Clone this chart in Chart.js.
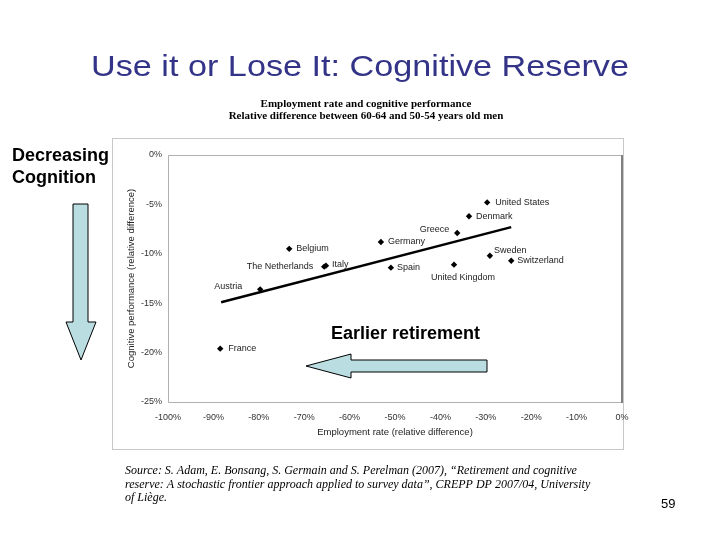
<!DOCTYPE html>
<html>
<head>
<meta charset="utf-8">
<script src="https://cdn.jsdelivr.net/npm/chart.js@4.4.1/dist/chart.umd.min.js"></script>
<style>
  html, body { margin: 0; padding: 0; background: #fff; }
  #wrap { position: relative; width: 720px; height: 540px; }
</style>
</head>
<body>
<div id="wrap"><canvas id="retireChart" width="720" height="540"></canvas></div>
<script>
// countries and their values
const countries = ['United States', 'Denmark', 'Greece', 'Germany', 'Belgium', 'The Netherlands',
                   'Italy', 'Spain', 'United Kingdom', 'Sweden', 'Switzerland', 'Austria', 'France'];
const employment = [-29.7, -33.7, -36.3, -53.1, -73.3, -65.6, -65.2, -50.9, -37.0, -29.1, -24.4, -79.7, -88.5];
const cognition = [-4.8, -6.2, -7.9, -8.8, -9.5, -11.3, -11.2, -11.4, -11.1, -10.2, -10.7, -13.6, -19.6];

// fitted line end points
const trendX = [-88.3, -24.4];
const trendY = [-14.9, -7.3];

const xTicks = [-100, -90, -80, -70, -60, -50, -40, -30, -20, -10, 0];
const yTicks = [0, -5, -10, -15, -20, -25];

// where each country name sits next to its marker
const labelPlace = {
    'United States': { dx: 8, dy: 0, align: 'left' },
    'Denmark': { dx: 7, dy: 0, align: 'left' },
    'Greece': { dx: -8, dy: -4, align: 'right' },
    'Germany': { dx: 7, dy: 0, align: 'left' },
    'Belgium': { dx: 7, dy: 0, align: 'left' },
    'The Netherlands': { dx: -11, dy: 0, align: 'right' },
    'Italy': { dx: 6, dy: -1, align: 'left' },
    'Spain': { dx: 6, dy: 0, align: 'left' },
    'United Kingdom': { dx: 9, dy: 13, align: 'center' },
    'Sweden': { dx: 4, dy: -5, align: 'left' },
    'Switzerland': { dx: 6, dy: 0, align: 'left' },
    'Austria': { dx: -18, dy: -3, align: 'right' },
    'France': { dx: 8, dy: 0, align: 'left' }
};

const points = countries.map((c, i) => ({ x: employment[i], y: cognition[i] }));
const trend = trendX.map((x, i) => ({ x: x, y: trendY[i] }));

function arrowPath(ctx, pts) {
    ctx.save();
    ctx.beginPath();
    ctx.moveTo(pts[0][0], pts[0][1]);
    for (let i = 1; i < pts.length; i++) ctx.lineTo(pts[i][0], pts[i][1]);
    ctx.closePath();
    ctx.fillStyle = '#b9dde0';
    ctx.fill();
    ctx.lineWidth = 1;
    ctx.strokeStyle = '#000';
    ctx.stroke();
    ctx.restore();
}

// slide decorations, frames and point labels
const slidePlugin = {
    id: 'slide',
    beforeDraw(chart) {
        const ctx = chart.ctx;
        const a = chart.chartArea;
        ctx.save();
        ctx.fillStyle = '#fff';
        ctx.fillRect(0, 0, chart.width, chart.height);
        // outer chart frame
        ctx.strokeStyle = '#c8c8c8';
        ctx.lineWidth = 1;
        ctx.strokeRect(112.5, 138.5, 511, 311);
        // plot area frame
        ctx.strokeStyle = '#b0b0b0';
        ctx.beginPath();
        ctx.moveTo(a.right, a.top + 0.5);
        ctx.lineTo(a.left + 0.5, a.top + 0.5);
        ctx.lineTo(a.left + 0.5, a.bottom + 0.5);
        ctx.lineTo(a.right, a.bottom + 0.5);
        ctx.stroke();
        ctx.strokeStyle = '#808080';
        ctx.lineWidth = 2;
        ctx.beginPath();
        ctx.moveTo(a.right, a.top);
        ctx.lineTo(a.right, a.bottom + 1);
        ctx.stroke();
        ctx.restore();
    },
    afterDatasetsDraw(chart) {
        const ctx = chart.ctx;
        const xs = chart.scales.x, ys = chart.scales.y;
        ctx.save();
        ctx.font = '9px "Liberation Sans", Arial, sans-serif';
        ctx.fillStyle = '#222';
        ctx.textBaseline = 'middle';
        countries.forEach((c, i) => {
            const p = labelPlace[c];
            ctx.textAlign = p.align;
            ctx.fillText(c, xs.getPixelForValue(employment[i]) + p.dx, ys.getPixelForValue(cognition[i]) + p.dy);
        });
        ctx.restore();
    },
    afterDraw(chart) {
        const ctx = chart.ctx;
        ctx.save();
        ctx.textBaseline = 'middle';

        // slide title (the original is a bit stretched sideways)
        ctx.save();
        ctx.fillStyle = '#333388';
        ctx.font = '30px "Liberation Sans", Arial, sans-serif';
        ctx.textAlign = 'center';
        ctx.translate(360, 68);
        ctx.scale(1.14, 1);
        ctx.fillText('Use it or Lose It: Cognitive Reserve', 0, 0);
        ctx.restore();

        // chart heading
        ctx.fillStyle = '#000';
        ctx.textAlign = 'center';
        ctx.font = 'bold 11px "Liberation Serif", "Times New Roman", serif';
        ctx.fillText('Employment rate and cognitive performance', 366, 104);
        ctx.fillText('Relative difference between 60-64 and 50-54 years old men', 366, 116);

        // side notes
        ctx.font = 'bold 18px "Liberation Sans", Arial, sans-serif';
        ctx.textAlign = 'left';
        ctx.fillText('Decreasing', 12, 156);
        ctx.fillText('Cognition', 12, 178);
        ctx.fillText('Earlier retirement', 331, 334);

        // arrows
        arrowPath(ctx, [[73, 204], [88, 204], [88, 322], [96, 322], [81, 360], [66, 322], [73, 322]]);
        arrowPath(ctx, [[487, 360], [487, 372], [351, 372], [351, 378], [306, 366], [351, 354], [351, 360]]);

        // source
        ctx.fillStyle = '#000';
        ctx.textAlign = 'left';
        ctx.font = 'italic 12px "Liberation Serif", "Times New Roman", serif';
        ctx.fillText('Source: S. Adam, E. Bonsang, S. Germain and S. Perelman (2007), \u201cRetirement and cognitive', 125, 471);
        ctx.fillText('reserve: A stochastic frontier approach applied to survey data\u201d, CREPP DP 2007/04, University', 125, 485);
        ctx.fillText('of Li\u00e8ge.', 125, 498);

        ctx.font = '13px "Liberation Sans", Arial, sans-serif';
        ctx.fillText('59', 661, 504);
        ctx.restore();
    }
};

const ctx = document.getElementById('retireChart').getContext('2d');
const retireChart = new Chart(ctx, {
    type: 'scatter',
    data: {
        datasets: [{
            label: 'Countries',
            data: points,
            pointStyle: 'rectRot',
            pointRadius: 3.2,
            backgroundColor: '#000',
            borderColor: '#000',
            borderWidth: 0
        }, {
            label: 'Trend',
            type: 'line',
            data: trend,
            showLine: true,
            borderColor: '#000',
            borderWidth: 2.5,
            pointRadius: 0,
            fill: false
        }]
    },
    options: {
        responsive: false,
        animation: false,
        layout: { padding: { left: 122, top: 155, right: 98, bottom: 98 } },
        plugins: {
            legend: { display: false },
            tooltip: { enabled: false }
        },
        scales: {
            x: {
                type: 'linear',
                min: -100,
                max: 0,
                afterBuildTicks: scale => { scale.ticks = xTicks.map(v => ({ value: v })); },
                afterFit: scale => { scale.height = 40; },
                grid: { display: false, drawTicks: false },
                border: { display: false },
                ticks: {
                    padding: 10,
                    color: '#333',
                    font: { family: '"Liberation Sans", Arial, sans-serif', size: 9 },
                    maxRotation: 0,
                    callback: v => v + '%'
                },
                title: {
                    display: true,
                    text: 'Employment rate (relative difference)',
                    color: '#222',
                    padding: 4,
                    font: { family: '"Liberation Sans", Arial, sans-serif', size: 9.5 }
                }
            },
            y: {
                type: 'linear',
                min: -25,
                max: 0,
                afterBuildTicks: scale => { scale.ticks = yTicks.map(v => ({ value: v })); },
                afterFit: scale => { scale.width = 46; },
                grid: { display: false, drawTicks: false },
                border: { display: false },
                ticks: {
                    padding: 6,
                    color: '#333',
                    font: { family: '"Liberation Sans", Arial, sans-serif', size: 9 },
                    callback: v => v + '%'
                },
                title: {
                    display: true,
                    text: 'Cognitive performance (relative difference)',
                    color: '#222',
                    padding: 4,
                    font: { family: '"Liberation Sans", Arial, sans-serif', size: 9.5 }
                }
            }
        }
    },
    plugins: [slidePlugin]
});
</script>
</body>
</html>
